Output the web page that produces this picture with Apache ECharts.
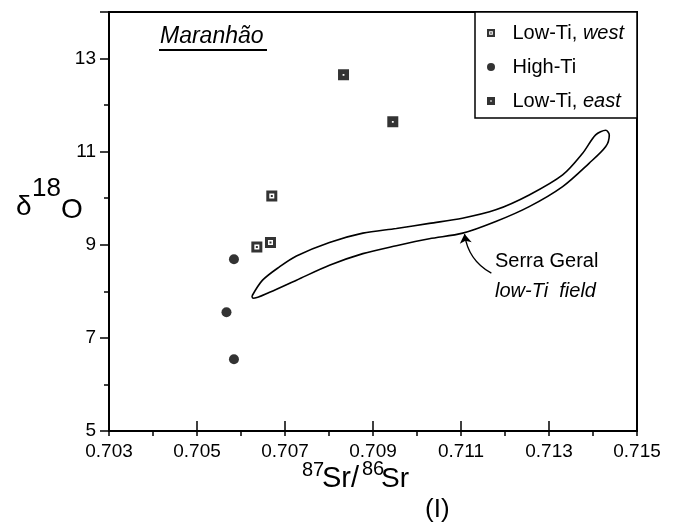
<!DOCTYPE html>
<html>
<head>
<meta charset="utf-8">
<script src="https://cdn.jsdelivr.net/npm/echarts@6/dist/echarts.min.js"></script>
<style>html,body{margin:0;padding:0;background:#fff}#c{width:683px;height:528px}</style>
</head>
<body>
<div id="c"></div>
<script>
// ---- data ----
const xRange = [0.703, 0.715];
const yRange = [5, 14];
const xTickStep = 0.002;
const yTickStep = 2;
const lowTiWest = [[0.70670, 10.05], [0.70667, 9.05], [0.70636, 8.95]];
const highTi = [[0.70584, 8.69], [0.70567, 7.55], [0.70584, 6.54]];
const lowTiEast = [[0.70833, 12.65], [0.70945, 11.64]];
const fieldUpper = [[0.70625,7.90],[0.70649,8.24],[0.70688,8.53],[0.70726,8.76],[0.70801,9.05],[0.70877,9.25],[0.70953,9.35],[0.71028,9.46],[0.71103,9.57],[0.71179,9.75],[0.71255,10.07],[0.71331,10.50],[0.71376,10.96],[0.71406,11.36],[0.71429,11.46],[0.71437,11.36]];
const fieldLower = [[0.71429,11.11],[0.71391,10.75],[0.71331,10.25],[0.71255,9.82],[0.71179,9.50],[0.71104,9.25],[0.71028,9.13],[0.70953,8.98],[0.70877,8.81],[0.70801,8.56],[0.70726,8.24],[0.70665,7.98],[0.70627,7.85],[0.70625,7.90]];
const arrowFrom = [0.71169, 8.39];
const arrowTo = [0.71108, 9.23];
const seriesNames = ['Low-Ti, west', 'High-Ti', 'Low-Ti, east'];

// ---- rendering ----
const FONT = '"Liberation Sans", Arial, Helvetica, sans-serif';
const westSymbol = 'path://M0 0 H11 V11 H0 Z M3 3 V8 H8 V3 Z M4.5 4.5 H6.5 V6.5 H4.5 Z';
const eastSymbol = 'path://M0 0 H11 V11 H0 Z M4.6 4.6 V6.4 H6.4 V4.6 Z';
const chart = echarts.init(document.getElementById('c'), null, {renderer: 'canvas'});
const txt = (x, y, text, size, opts) => ({
  type: 'text', x: x, y: y, silent: true,
  style: {text: text, font: (opts && opts.italic ? 'italic ' : '') + size + 'px ' + FONT, fill: '#000', textAlign: 'left', textVerticalAlign: 'middle'}
});
chart.setOption({
  animation: false,
  backgroundColor: '#fff',
  grid: {left: 109, right: 46, top: 12, bottom: 97, show: true, borderColor: '#000', borderWidth: 2, backgroundColor: 'transparent', outerBoundsMode: 'none'},
  xAxis: [{
    type: 'value', min: xRange[0], max: xRange[1], interval: xTickStep, position: 'bottom',
    axisLine: {show: true, lineStyle: {color: '#000', width: 2}},
    axisTick: {show: true, inside: true, length: 10, lineStyle: {color: '#000', width: 1.5}},
    axisLabel: {show: true, color: '#000', fontFamily: FONT, fontSize: 19, margin: 11, formatter: v => v.toFixed(3)},
    splitLine: {show: false}
  }, {
    type: 'value', min: xRange[0], max: xRange[1], interval: xTickStep / 2, position: 'bottom', offset: 0,
    axisLine: {show: false}, axisTick: {show: true, inside: false, length: 5, lineStyle: {color: '#000', width: 1.5}},
    axisLabel: {show: false}, splitLine: {show: false}
  }],
  yAxis: [{
    type: 'value', min: yRange[0], max: yRange[1], interval: yTickStep, position: 'left',
    axisLine: {show: true, lineStyle: {color: '#000', width: 2}},
    axisTick: {show: true, inside: false, length: 9, lineStyle: {color: '#000', width: 1.5}},
    axisLabel: {show: true, color: '#000', fontFamily: FONT, fontSize: 19, margin: 13, formatter: v => (v > 13.5 ? '' : String(v))},
    splitLine: {show: false}
  }, {
    type: 'value', min: yRange[0], max: yRange[1], interval: yTickStep / 2, position: 'left', offset: 0,
    axisLine: {show: false}, axisTick: {show: true, inside: false, length: 5, lineStyle: {color: '#000', width: 1.5}},
    axisLabel: {show: false}, splitLine: {show: false}
  }],
  legend: {
    data: seriesNames, orient: 'vertical', left: 475, top: 12,
    padding: [11, 13, 7, 12], itemGap: 14, itemWidth: 33, itemHeight: 8,
    borderColor: '#000', borderWidth: 1.5, backgroundColor: '#fff',
    selectedMode: false,
    textStyle: {color: '#000', fontFamily: FONT, fontSize: 20,
      rich: {i: {fontStyle: 'italic', fontFamily: FONT, fontSize: 20, color: '#000'}}},
    formatter: name => name.replace(/, (west|east)$/, ', {i|$1}')
  },
  graphic: [
    txt(160, 37, 'Maranhão', 23, {italic: true}),
    {type: 'line', silent: true, shape: {x1: 159, y1: 50, x2: 267, y2: 50}, style: {stroke: '#000', lineWidth: 2}},
    txt(16, 207, 'δ', 28),
    txt(32, 189, '18', 26),
    txt(61, 210, 'O', 28),
    txt(302, 470, '87', 20),
    txt(322, 479, 'Sr/', 29),
    txt(362, 469, '86', 20),
    txt(381, 479, 'Sr', 28),
    txt(425, 510, '(I)', 26),
    txt(495, 261, 'Serra Geral', 20),
    txt(495, 291, 'low-Ti  field', 20, {italic: true})
  ],
  series: [
    {name: seriesNames[0], type: 'scatter', data: lowTiWest, symbol: westSymbol, symbolSize: 11, itemStyle: {color: '#000'}, z: 5},
    {name: seriesNames[1], type: 'scatter', data: highTi, symbol: 'circle', symbolSize: 10, itemStyle: {color: '#000'}, z: 5},
    {name: seriesNames[2], type: 'scatter', data: lowTiEast, symbol: eastSymbol, symbolSize: 11, itemStyle: {color: '#000'}, z: 5},
    {name: 'Serra Geral low-Ti field', type: 'line', data: fieldUpper.concat(fieldLower), smooth: 0.3,
      symbol: 'none', silent: true, lineStyle: {color: '#000', width: 1.6}, z: 3},
    {name: 'arrow', type: 'lines', coordinateSystem: 'cartesian2d', silent: true,
      symbol: ['none', 'arrow'], symbolSize: [0, 9],
      lineStyle: {color: '#000', width: 1.3, opacity: 1, curveness: 0.25},
      data: [{coords: [arrowFrom, arrowTo]}], z: 4}
  ]
});
</script>
</body>
</html>
